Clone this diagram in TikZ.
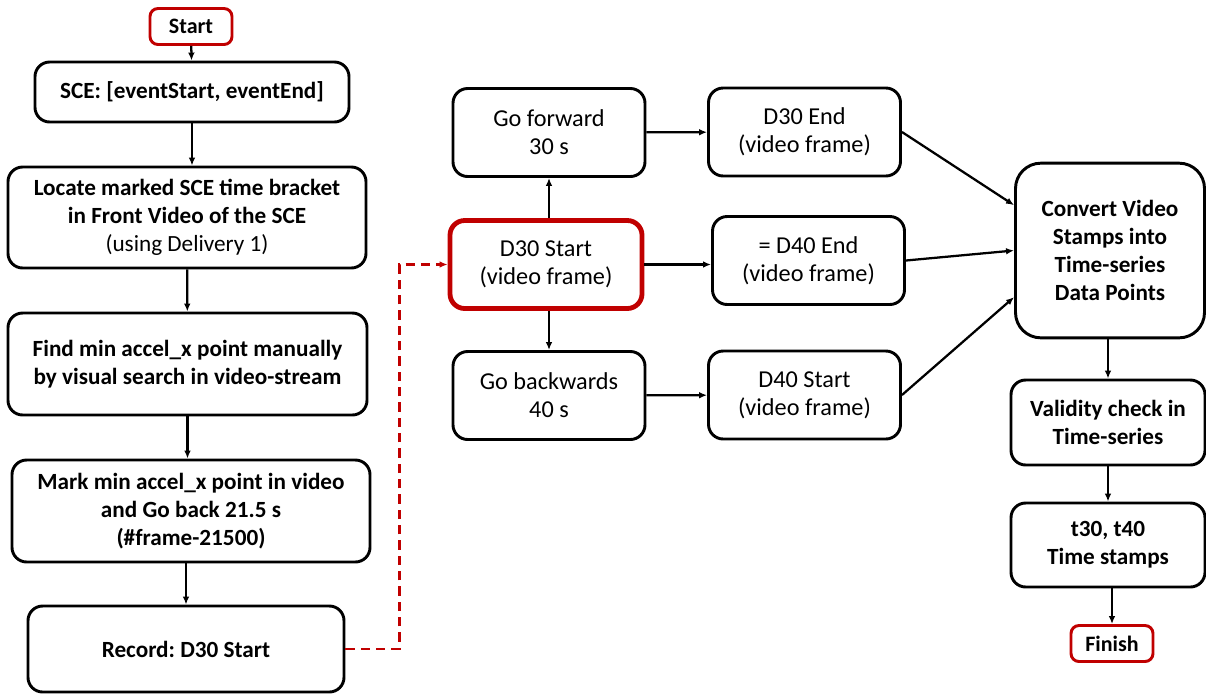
\documentclass[tikz,border=0pt]{standalone}
\usepackage{fontspec}
\setmainfont{Carlito}
\usetikzlibrary{arrows.meta}
\definecolor{boxred}{RGB}{192,0,0}
\frenchspacing
\begin{document}
\begin{tikzpicture}[x=0.75pt,y=-0.75pt,
    box/.style={draw,line width=2.2pt,rounded corners=11pt,align=center,inner sep=2pt,
      font=\bfseries\fontsize{17.4}{21}\selectfont},
    framebox/.style={box,font=\fontsize{18.2}{21}\selectfont,minimum width=144pt,minimum height=66pt},
    endbox/.style={box,draw=boxred,rounded corners=6pt,minimum width=61.5pt,minimum height=27pt,
      font=\bfseries\fontsize{16.5}{21}\selectfont},
    arr/.style={line width=1.7pt,-{Latex[length=6pt,width=5pt]}}]
    \useasboundingbox (0,0) rectangle (1206,694);
    % left column
    \node [endbox] (start) at (191,26.5) {Start};
    \node [box,minimum width=235.5pt,minimum height=45pt] (sce) at (192,92) {SCE: [eventStart, eventEnd]};
    \node [box,minimum width=268.5pt,minimum height=75.75pt] (locate) at (187,217.5)
        {Locate marked SCE time bracket\\in Front Video of the SCE\\{\mdseries (using Delivery 1)}};
    \node [box,minimum width=269.25pt,minimum height=76.5pt] (find) at (187.5,364)
        {Find min accel\_x point manually\\by visual search in video-stream};
    \node [box,minimum width=268.5pt,minimum height=76.5pt] (mark) at (191,511)
        {Mark min accel\_x point in video\\and Go back 21.5 s\\(\#frame-21500)};
    \node [box,minimum width=237pt,minimum height=64.5pt] (record) at (186,649) {Record: D30 Start};
    % middle columns
    \node [framebox] (fwd) at (549,132.5) {Go forward\\30 s};
    \node [framebox,draw=boxred,line width=3.6pt] (d30start) at (546,264.5) {D30 Start\\(video frame)};
    \node [framebox] (bwd) at (549,395.5) {Go backwards\\40 s};
    \node [framebox] (d30end) at (804.5,132) {D30 End\\(video frame)};
    \node [framebox] (d40end) at (808.5,260.5) {= D40 End\\(video frame)};
    \node [framebox] (d40start) at (804.5,395) {D40 Start\\(video frame)};
    % right column
    \node [box,rounded corners=19pt,minimum width=141.75pt,minimum height=131pt] (convert) at (1110,250.5)
        {Convert Video\\Stamps into\\Time-series\\Data Points};
    \node [box,minimum width=145.5pt,minimum height=63.75pt] (valid) at (1108,422.5) {Validity check in\\Time-series};
    \node [box,minimum width=145.5pt,minimum height=63pt] (stamps) at (1108,545) {t30, t40\\Time stamps};
    \node [endbox] (finish) at (1112,643.5) {Finish};

    \draw [arr] (start) -- (sce);
    \draw [arr] (sce.south) -- (sce.south |- locate.north);
    \draw [arr] (locate) -- (find);
    \draw [arr] (find) -- (find |- mark.north);
    \draw [arr] (mark.south -| record) -- (record);
    \draw [arr,boxred,line width=2pt,dash pattern=on 7pt off 4.5pt] (record.east) -- ++(54,0) |- (d30start.west);
    \draw [arr] (d30start.north -| fwd) -- (fwd);
    \draw [arr] (d30start.south -| bwd) -- (bwd);
    \draw [arr] (fwd) -- (d30end);
    \draw [arr] (d30start.east) -- (d30start.east -| d40end.west);
    \draw [arr] (bwd) -- (d40start);
    \draw [arr] (d30end.east) -- ([yshift=34pt]convert.west);
    \draw [arr] (d40end.east) -- (convert.west);
    \draw [arr] (d40start.east) -- ([yshift=-35pt]convert.west);
    \draw [arr] (convert.south -| valid) -- (valid);
    \draw [arr] (valid) -- (stamps);
    \draw [arr] (stamps.south -| finish) -- (finish);
\end{tikzpicture}
\end{document}
